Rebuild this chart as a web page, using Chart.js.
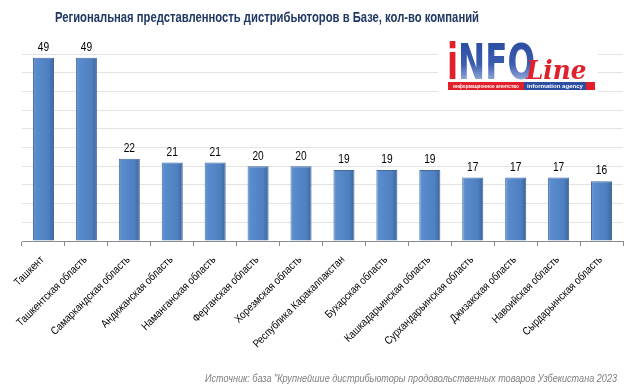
<!DOCTYPE html>
<html>
<head>
<meta charset="utf-8">
<script src="https://cdn.jsdelivr.net/npm/chart.js@4"></script>
<style>
  html, body { margin: 0; padding: 0; background: #fff; }
  #wrap { width: 634px; height: 392px; position: relative; }
</style>
</head>
<body>
<div id="wrap"><canvas id="myChart" width="634" height="392"></canvas></div>
<script>
const regions = ["Ташкент", "Ташкентская область", "Самаркандская область", "Андижанская область",
  "Наманганская область", "Ферганская область", "Хорезмская область", "Республика Каракалпакстан",
  "Бухарская область", "Кашкадарьинская область", "Сурхандарьинская область", "Джизакская область",
  "Навоийская область", "Сырдарьинская область"];
const companies = [49, 49, 22, 21, 21, 20, 20, 19, 19, 19, 17, 17, 17, 16];

const chartTitle = "Региональная представленность дистрибьюторов в Базе, кол-во компаний";
const sourceNote = "Источник: база \"Крупнейшие дистрибьюторы продовольственных товаров Узбекистана 2023";

const SANS = "'Liberation Sans', Arial, sans-serif";

// horizontal gradient per bar, gives the bevelled look
function barFill(c) {
  const chart = c.chart;
  const x = chart.scales.x;
  if (!chart.chartArea || !x || c.dataIndex === undefined) return "#4f81bd";
  const cx = x.getPixelForValue(c.dataIndex);
  const half = x.width / regions.length * 0.25;
  if (!isFinite(cx) || !isFinite(half) || half <= 0) return "#4f81bd";
  const g = chart.ctx.createLinearGradient(cx - half, 0, cx + half, 0);
  g.addColorStop(0, "#6e9dd8");
  g.addColorStop(0.15, "#5a8bcd");
  g.addColorStop(0.75, "#4e7fbf");
  g.addColorStop(1, "#3a6298");
  return g;
}

// text squeezed horizontally, the source uses a narrow face
function narrowText(ctx, txt, x, y, sx) {
  ctx.save();
  ctx.translate(x, y);
  ctx.scale(sx, 1);
  ctx.fillText(txt, 0, 0);
  ctx.restore();
}

const extras = {
  id: "extras",
  afterDatasetsDraw(chart) {
    const ctx = chart.ctx;
    const meta = chart.getDatasetMeta(0);
    const xs = chart.scales.x;
    ctx.save();
    // value labels
    ctx.fillStyle = "#000";
    ctx.font = "12px " + SANS;
    ctx.textAlign = "center";
    ctx.textBaseline = "middle";
    meta.data.forEach(function (bar, i) {
      narrowText(ctx, String(companies[i]), bar.x, bar.y - 10, 0.85);
    });
    // category labels, rotated 45deg
    ctx.font = "11px " + SANS;
    ctx.textAlign = "right";
    ctx.textBaseline = "middle";
    regions.forEach(function (r, i) {
      const cx = xs.getPixelForValue(i);
      ctx.save();
      ctx.translate(cx - 1, xs.top + 17);
      ctx.rotate(-Math.PI / 4);
      ctx.scale(0.86, 1);
      ctx.fillText(r, 0, 0);
      ctx.restore();
    });
    ctx.restore();
  },
  afterDraw(chart) {
    const ctx = chart.ctx;
    ctx.save();
    // title
    ctx.fillStyle = "#203864";
    ctx.font = "bold 15px " + SANS;
    ctx.textAlign = "center";
    ctx.textBaseline = "middle";
    narrowText(ctx, chartTitle, 267, 18, 424 / ctx.measureText(chartTitle).width);

    // source
    ctx.fillStyle = "#808080";
    ctx.font = "italic 11px " + SANS;
    ctx.textAlign = "right";
    narrowText(ctx, sourceNote, 617, 379, 412 / ctx.measureText(sourceNote).width);

    // logo
    ctx.fillStyle = "#fff";
    ctx.fillRect(438, 37, 160, 55);
    ctx.textAlign = "left";
    ctx.textBaseline = "alphabetic";
    ctx.font = "bold 50px 'DejaVu Sans', sans-serif";
    const w = ctx.measureText("iNFO").width;
    ctx.save();
    ctx.translate(447, 79);
    ctx.scale(88 / w, 1);
    ctx.fillStyle = "#e0202a";
    ctx.fillText("i", 0, 0);
    const wi = ctx.measureText("i").width;
    const blue = ctx.createLinearGradient(0, -37, 0, 0);
    blue.addColorStop(0, "#2b4ea2");
    blue.addColorStop(0.6, "#3b5db0");
    blue.addColorStop(1, "#8ea3d6");
    ctx.fillStyle = blue;
    ctx.fillText("NFO", wi, 0);
    ctx.restore();
    ctx.fillStyle = "#e0202a";
    ctx.font = "italic bold 26px 'DejaVu Serif', serif";
    narrowText(ctx, "Line", 526, 79, 0.95);
    // ribbon
    ctx.fillRect(448, 82, 147, 8);
    ctx.fillStyle = "#2b4ea2";
    ctx.fillRect(524, 82, 62, 8);
    ctx.fillStyle = "#fff";
    ctx.font = "bold 6px " + SANS;
    ctx.textBaseline = "middle";
    narrowText(ctx, "информационное агентство", 453, 86.3, 66 / ctx.measureText("информационное агентство").width);
    narrowText(ctx, "information agency", 527, 86.3, 56 / ctx.measureText("information agency").width);
    ctx.restore();
  }
};

new Chart(document.getElementById("myChart"), {
  type: "bar",
  data: {
    labels: regions,
    datasets: [{
      label: "кол-во компаний",
      data: companies,
      backgroundColor: barFill,
      borderColor: "#41699e",
      borderWidth: 1,
      barPercentage: 0.49,
      categoryPercentage: 1
    }]
  },
  options: {
    responsive: false,
    animation: false,
    layout: { padding: { left: 22, right: 11, top: 54, bottom: 21 } },
    plugins: {
      legend: { display: false },
      tooltip: { enabled: false },
      title: { display: false }
    },
    scales: {
      x: {
        grid: { display: true, drawOnChartArea: false, offset: true, tickLength: 5, color: "#8c8c8c" },
        border: { color: "#8c8c8c" },
        ticks: { display: false, autoSkip: false },
        afterFit(scale) { scale.height = 130; }
      },
      y: {
        min: 0,
        max: 50,
        ticks: { display: false, stepSize: 5 },
        border: { display: false },
        grid: { color: "#e3e3e3", drawTicks: false },
        afterFit(scale) { scale.width = 0; }
      }
    }
  },
  plugins: [extras]
});
</script>
</body>
</html>
